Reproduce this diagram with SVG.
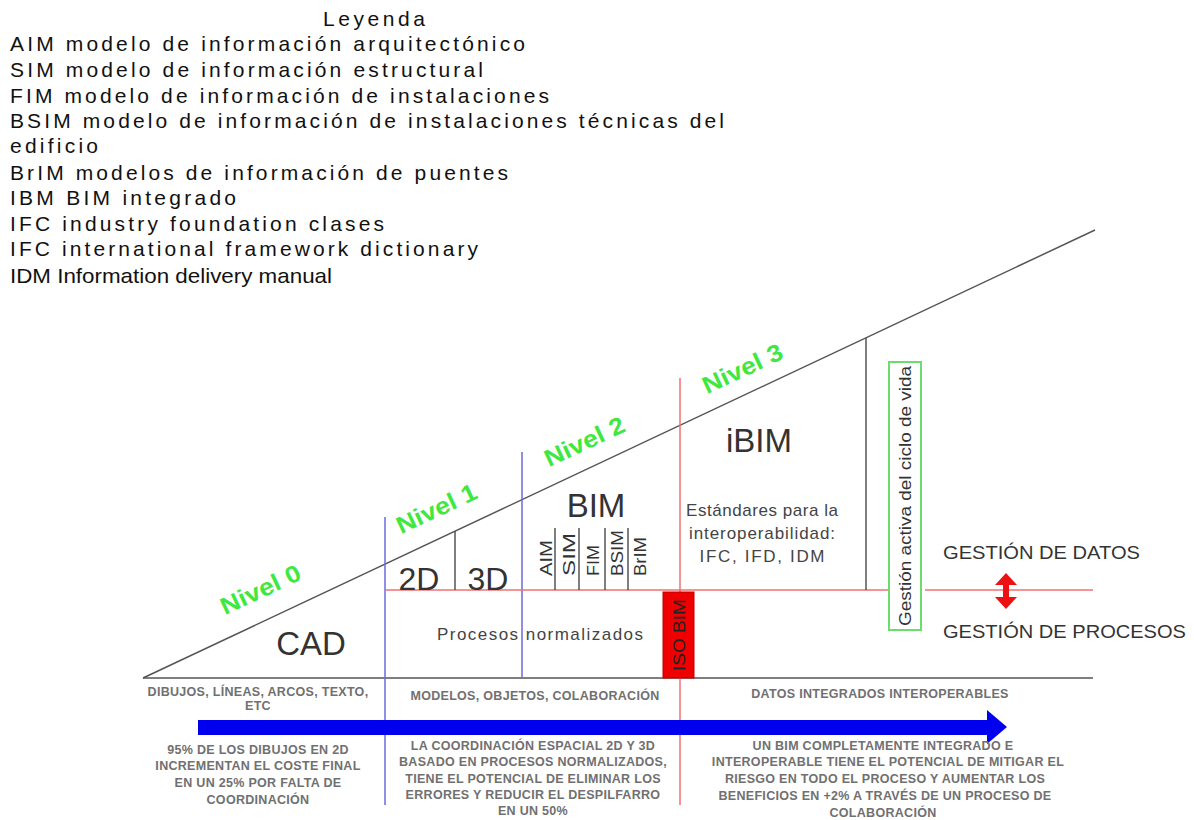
<svg xmlns="http://www.w3.org/2000/svg" width="1194" height="820" viewBox="0 0 1194 820">
<style>
text{font-family:"Liberation Sans",Arial,sans-serif}
.leg{font-size:21px;fill:#111}
.niv{font-size:24px;font-weight:bold;fill:#3fe83f}
.big{font-size:33px;fill:#333}
.mid{font-size:17px;fill:#444}
.gest{font-size:18.5px;fill:#333}
.sm{font-size:12.5px;fill:#707070;font-weight:bold;letter-spacing:0.3px}
.rot{font-size:17px;fill:#333}
.grey{stroke:#555;stroke-width:1.5;fill:none}
.blue{stroke:#6a6ae0;stroke-width:1.5;fill:none}
.red{stroke:#f07070;stroke-width:1.5;fill:none}
</style>
<rect width="1194" height="820" fill="#fff"/>
<g id="legend">
<text class="leg" x="323" y="26" textLength="102" lengthAdjust="spacing">Leyenda</text>
<text class="leg" x="10" y="51" textLength="515" lengthAdjust="spacing">AIM modelo de información arquitectónico</text>
<text class="leg" x="10" y="77" textLength="473" lengthAdjust="spacing">SIM modelo de información estructural</text>
<text class="leg" x="10" y="103" textLength="539" lengthAdjust="spacing">FIM modelo de información de instalaciones</text>
<text class="leg" x="10" y="128" textLength="714" lengthAdjust="spacing">BSIM modelo de información de instalaciones técnicas del</text>
<text class="leg" x="10" y="153" textLength="88" lengthAdjust="spacing">edificio</text>
<text class="leg" x="10" y="180" textLength="498" lengthAdjust="spacing">BrIM modelos de información de puentes</text>
<text class="leg" x="10" y="205" textLength="226" lengthAdjust="spacing">IBM BIM integrado</text>
<text class="leg" x="10" y="231" textLength="374" lengthAdjust="spacing">IFC industry foundation clases</text>
<text class="leg" x="10" y="256" textLength="468" lengthAdjust="spacing">IFC international framework dictionary</text>
<text class="leg" x="10" y="283" textLength="322" lengthAdjust="spacingAndGlyphs">IDM Information delivery manual</text>
</g>
<g id="connectors">
<line class="grey" x1="143" y1="678" x2="1095" y2="230"/>
<line class="grey" x1="143" y1="678" x2="1093" y2="678"/>
<line class="blue" x1="385" y1="517" x2="385" y2="805"/>
<line class="blue" x1="522" y1="452" x2="522" y2="678"/>
<line class="red" x1="680" y1="378" x2="680" y2="805"/>
<line class="red" x1="385" y1="590" x2="889" y2="590"/>
<line class="red" x1="925" y1="590" x2="1093" y2="590"/>
<line class="grey" x1="455" y1="531" x2="455" y2="590"/>
<line class="grey" x1="866" y1="338" x2="866" y2="590"/>
<line class="grey" x1="555" y1="528" x2="555" y2="590"/>
<line class="grey" x1="579" y1="528" x2="579" y2="590"/>
<line class="grey" x1="605" y1="528" x2="605" y2="590"/>
<line class="grey" x1="628" y1="528" x2="628" y2="590"/>
<polygon points="198,720 987,720 987,710 1007,727 987,744 987,735 198,735" fill="#0000ee"/>
<polygon points="1006,573 1017,585 1009,585 1009,597 1017,597 1006,609 995,597 1003,597 1003,585 995,585" fill="#ee1111"/>
</g>
<g id="niveles">
<text class="niv" text-anchor="middle" transform="translate(264,597) rotate(-25)" textLength="86" lengthAdjust="spacingAndGlyphs">Nivel 0</text>
<text class="niv" text-anchor="middle" transform="translate(440,516) rotate(-25)" textLength="86" lengthAdjust="spacingAndGlyphs">Nivel 1</text>
<text class="niv" text-anchor="middle" transform="translate(588,449) rotate(-25)" textLength="86" lengthAdjust="spacingAndGlyphs">Nivel 2</text>
<text class="niv" text-anchor="middle" transform="translate(746,376) rotate(-25)" textLength="86" lengthAdjust="spacingAndGlyphs">Nivel 3</text>
</g>
<g id="cad">
<text class="big" x="311" y="655" text-anchor="middle">CAD</text>
</g>
<g id="n2d3d">
<text class="big" x="419" y="590" text-anchor="middle" style="font-size:32px">2D</text>
<text class="big" x="488" y="590" text-anchor="middle" style="font-size:32px">3D</text>
<text class="mid" x="540" y="640" text-anchor="middle" textLength="206" lengthAdjust="spacing">Procesos normalizados</text>
</g>
<g id="bim">
<text class="big" x="596" y="517" text-anchor="middle">BIM</text>
<text class="rot" transform="translate(552,576) rotate(-90)" textLength="36" lengthAdjust="spacingAndGlyphs">AIM</text>
<text class="rot" transform="translate(575,576) rotate(-90)" textLength="43" lengthAdjust="spacingAndGlyphs">SIM</text>
<text class="rot" transform="translate(599,576) rotate(-90)" textLength="31" lengthAdjust="spacingAndGlyphs">FIM</text>
<text class="rot" transform="translate(623,576) rotate(-90)" textLength="46" lengthAdjust="spacingAndGlyphs">BSIM</text>
<text class="rot" transform="translate(646,576) rotate(-90)" textLength="39" lengthAdjust="spacingAndGlyphs">BrIM</text>
</g>
<g id="isobim">
<rect x="663" y="592" width="31" height="86" fill="#ee0000" stroke="#c00000" stroke-width="1"/>
<text class="rot" transform="translate(685,635) rotate(-90)" text-anchor="middle" textLength="72" lengthAdjust="spacingAndGlyphs" style="fill:#222">ISO BIM</text>
</g>
<g id="ibim">
<text class="big" x="759" y="452" text-anchor="middle">iBIM</text>
<text class="mid" x="762" y="516" text-anchor="middle" textLength="152" lengthAdjust="spacing">Estándares para la</text>
<text class="mid" x="762" y="539" text-anchor="middle" textLength="146" lengthAdjust="spacing">interoperabilidad:</text>
<text class="mid" x="762" y="562" text-anchor="middle" textLength="125" lengthAdjust="spacing">IFC, IFD, IDM</text>
</g>
<g id="ciclo">
<rect x="889" y="362" width="32" height="268" fill="#fff" stroke="#6ddc6d" stroke-width="2"/>
<text class="rot" transform="translate(911,496) rotate(-90)" text-anchor="middle" textLength="260" lengthAdjust="spacingAndGlyphs" style="font-size:16px">Gestión activa del ciclo de vida</text>
</g>
<g id="gestion">
<text class="gest" x="943" y="559" textLength="197" lengthAdjust="spacingAndGlyphs">GESTIÓN DE DATOS</text>
<text class="gest" x="943" y="638" textLength="243" lengthAdjust="spacingAndGlyphs">GESTIÓN DE PROCESOS</text>
</g>
<g id="bottom-left">
<text class="sm" x="258" y="696" text-anchor="middle">DIBUJOS, LÍNEAS, ARCOS, TEXTO,</text>
<text class="sm" x="258" y="710" text-anchor="middle">ETC</text>
<text class="sm" x="258" y="754" text-anchor="middle">95% DE LOS DIBUJOS EN 2D</text>
<text class="sm" x="258" y="770" text-anchor="middle">INCREMENTAN EL COSTE FINAL</text>
<text class="sm" x="258" y="787" text-anchor="middle">EN UN 25% POR FALTA DE</text>
<text class="sm" x="258" y="804" text-anchor="middle">COORDINACIÓN</text>
</g>
<g id="bottom-mid">
<text class="sm" x="535" y="700" text-anchor="middle">MODELOS, OBJETOS, COLABORACIÓN</text>
<text class="sm" x="533" y="750" text-anchor="middle">LA COORDINACIÓN ESPACIAL 2D Y 3D</text>
<text class="sm" x="533" y="766" text-anchor="middle">BASADO EN PROCESOS NORMALIZADOS,</text>
<text class="sm" x="533" y="783" text-anchor="middle">TIENE EL POTENCIAL DE ELIMINAR LOS</text>
<text class="sm" x="533" y="799" text-anchor="middle">ERRORES Y REDUCIR EL DESPILFARRO</text>
<text class="sm" x="533" y="815" text-anchor="middle">EN UN 50%</text>
</g>
<g id="bottom-right">
<text class="sm" x="880" y="698" text-anchor="middle">DATOS INTEGRADOS INTEROPERABLES</text>
<text class="sm" x="883" y="750" text-anchor="middle">UN BIM COMPLETAMENTE INTEGRADO E</text>
<text class="sm" x="888" y="766" text-anchor="middle">INTEROPERABLE TIENE EL POTENCIAL DE MITIGAR EL</text>
<text class="sm" x="885" y="783" text-anchor="middle">RIESGO EN TODO EL PROCESO Y AUMENTAR LOS</text>
<text class="sm" x="885" y="800" text-anchor="middle">BENEFICIOS EN +2% A TRAVÉS DE UN PROCESO DE</text>
<text class="sm" x="883" y="817" text-anchor="middle">COLABORACIÓN</text>
</g>
</svg>
